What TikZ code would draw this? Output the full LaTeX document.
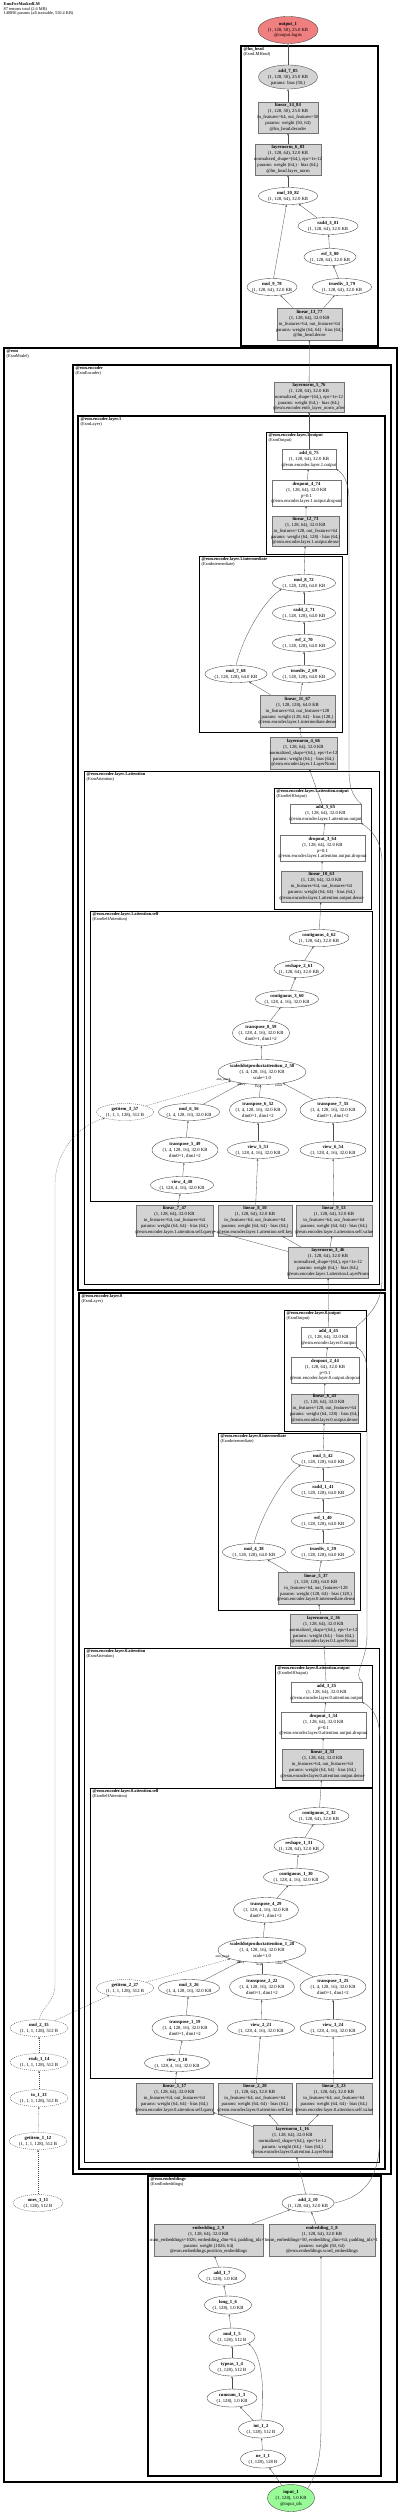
\documentclass[tikz,border=0pt]{standalone}
\usepackage{fontspec}
\setmainfont{Liberation Serif}
\usetikzlibrary{arrows.meta,shapes.geometric}
\definecolor{gfill}{HTML}{D3D3D3}
\definecolor{outc}{HTML}{F08080}
\definecolor{inc}{HTML}{98FB98}
\newcommand\myNF{\fontsize{4.7}{5.9}\selectfont}
\newcommand\myCF{\fontsize{4.4}{4.4}\selectfont}
\newcommand\myLF{\fontsize{3.4}{3.6}\selectfont}
\newcommand\EN[6][]{\node[el,#1,minimum width=#4pt,minimum height=#5pt] (#2) at (#3) {\textbf{#2}\\#6};}
\newcommand\BX[6][]{\node[bx,#1,minimum width=#4pt,minimum height=#5pt] (#2) at (#3) {\textbf{#2}\\#6};}
\catcode`\_=12
\begin{document}
\begin{tikzpicture}[x=1pt,y=-1pt,
 el/.style={ellipse,draw=black!75,line width=0.35pt,inner xsep=-4pt,inner ysep=-1pt,align=center,font=\myNF},
 bx/.style={rectangle,draw=black!55,line width=0.35pt,inner xsep=-15pt,inner ysep=-2pt,align=center,font=\myNF},
 gr/.style={fill=gfill},
 dsh/.style={dash pattern=on 1pt off 1pt},
 ed/.style={draw=black!70,line width=0.3pt,-{Stealth[length=2.2pt,width=1.7pt]}},
 ded/.style={ed,dash pattern=on 1pt off 1pt},
 clu/.style={draw=black,line width=#1},
 cll/.style={anchor=north west,align=left,inner sep=0pt,font=\myCF},
 lbl/.style={inner sep=0.4pt,font=\myLF}]
\useasboundingbox[fill=white] (0,0) rectangle (400,2514);

% header
\node[anchor=north west,align=left,inner sep=0pt,font=\fontsize{4.3}{4.4}\selectfont] (hdr) at (3.5,2.5) {\textbf{EsmForMaskedLM}\\87 tensors total (2.6 MB)\\140896 params (all trainable, 550.4 KB)};

% clusters
\draw[clu=1.6pt] (241,46) rectangle (378,346);
\node[cll] (c_lm) at (243.5,47.5) {\textbf{@lm_head}\\(EsmLMHead)};
\draw[clu=1.6pt] (4,348) rectangle (397,2482);
\node[cll] (c_esm) at (6.5,349.5) {\textbf{@esm}\\(EsmModel)};
\draw[clu=1.3pt] (73,365) rectangle (391,2174);
\node[cll] (c_enc) at (75.5,366.5) {\textbf{@esm.encoder}\\(EsmEncoder)};
\draw[clu=1.1pt] (78,416) rectangle (385,1290);
\node[cll] (c_l1) at (80.5,417.5) {\textbf{@esm.encoder.layer.1}\\(EsmLayer)};
\draw[clu=0.9pt] (266,432) rectangle (347,554);
\node[cll] (c_l1o) at (268.5,433.5) {\textbf{@esm.encoder.layer.1.output}\\(EsmOutput)};
\draw[clu=0.9pt] (199,556) rectangle (342,732);
\node[cll] (c_l1i) at (201.5,557.5) {\textbf{@esm.encoder.layer.1.intermediate}\\(EsmIntermediate)};
\draw[clu=0.9pt] (84,771) rectangle (379,1284);
\node[cll] (c_l1a) at (86.5,772.5) {\textbf{@esm.encoder.layer.1.attention}\\(EsmAttention)};
\draw[clu=0.7pt] (274,788) rectangle (371,909);
\node[cll] (c_l1ao) at (276.5,789.5) {\textbf{@esm.encoder.layer.1.attention.output}\\(EsmSelfOutput)};
\draw[clu=0.7pt] (90,911) rectangle (372,1201);
\node[cll] (c_l1as) at (92.5,912.5) {\textbf{@esm.encoder.layer.1.attention.self}\\(EsmSelfAttention)};
\draw[clu=1.1pt] (79,1293) rectangle (385,2169);
\node[cll] (c_l0) at (81.5,1294.5) {\textbf{@esm.encoder.layer.0}\\(EsmLayer)};
\draw[clu=0.9pt] (284,1310) rectangle (366,1431);
\node[cll] (c_l0o) at (286.5,1311.5) {\textbf{@esm.encoder.layer.0.output}\\(EsmOutput)};
\draw[clu=0.9pt] (218,1433) rectangle (360,1610);
\node[cll] (c_l0i) at (220.5,1434.5) {\textbf{@esm.encoder.layer.0.intermediate}\\(EsmIntermediate)};
\draw[clu=0.9pt] (84,1648) rectangle (379,2162);
\node[cll] (c_l0a) at (86.5,1649.5) {\textbf{@esm.encoder.layer.0.attention}\\(EsmAttention)};
\draw[clu=0.7pt] (275,1665) rectangle (372,1787);
\node[cll] (c_l0ao) at (277.5,1666.5) {\textbf{@esm.encoder.layer.0.attention.output}\\(EsmSelfOutput)};
\draw[clu=0.7pt] (90,1788) rectangle (372,2078);
\node[cll] (c_l0as) at (92.5,1789.5) {\textbf{@esm.encoder.layer.0.attention.self}\\(EsmSelfAttention)};
\draw[clu=1.3pt] (148,2176) rectangle (381,2476);
\node[cll] (c_emb) at (150.5,2177.5) {\textbf{@esm.embeddings}\\(EsmEmbeddings)};

% lm_head
\EN[fill=outc]{output_1}{288,30}{60}{27}{(1, 128, 50), 25.0 KB\\@output.logits}
\EN[gr]{add_7_85}{288,77}{59}{24}{(1, 128, 50), 25.0 KB\\params: bias (50,)}
\BX[gr]{linear_14_84}{288,117.5}{60}{31}{(1, 128, 50), 25.0 KB\\in_features=64, out_features=50\\params: weight (50, 64)\\@lm_head.decoder}
\BX[gr]{layernorm_6_83}{288,159.5}{66}{31}{(1, 128, 64), 32.0 KB\\normalized_shape=(64,), eps=1e-12\\params: weight (64,) · bias (64,)\\@lm_head.layer_norm}
\EN{mul_10_82}{288,196}{59}{17}{(1, 128, 64), 32.0 KB}
\EN{radd_3_81}{328,226}{60}{17}{(1, 128, 64), 32.0 KB}
\EN{erf_3_80}{330,257}{52}{17}{(1, 128, 64), 32.0 KB}
\EN{mul_9_78}{272,287}{50}{17}{(1, 128, 64), 32.0 KB}
\EN{truediv_3_79}{342,287}{59}{17}{(1, 128, 64), 32.0 KB}
\BX[gr]{linear_13_77}{309.5,324}{65}{32}{(1, 128, 64), 32.0 KB\\in_features=64, out_features=64\\params: weight (64, 64) · bias (64,)\\@lm_head.dense}

% encoder top
\BX[gr]{layernorm_5_76}{309,397}{70}{30}{(1, 128, 64), 32.0 KB\\normalized_shape=(64,), eps=1e-12\\params: weight (64,) · bias (64,)\\@esm.encoder.emb_layer_norm_after}

% layer 1
\BX{add_6_75}{309,459}{54}{20}{(1, 128, 64), 32.0 KB\\@esm.encoder.layer.1.output}
\BX{dropout_4_74}{306.5,493}{69}{26}{(1, 128, 64), 32.0 KB\\p=0.1\\@esm.encoder.layer.1.output.dropout}
\BX[gr]{linear_12_73}{305.5,531}{67}{30}{(1, 128, 64), 32.0 KB\\in_features=128, out_features=64\\params: weight (64, 128) · bias (64,)\\@esm.encoder.layer.1.output.dense}
\EN{mul_8_72}{304,583}{63}{17}{(1, 128, 128), 64.0 KB}
\EN{radd_2_71}{304,613}{63}{17}{(1, 128, 128), 64.0 KB}
\EN{erf_2_70}{304,643}{63}{17}{(1, 128, 128), 64.0 KB}
\EN{mul_7_68}{236,674}{62}{17}{(1, 128, 128), 64.0 KB}
\EN{truediv_2_69}{304,674}{63}{17}{(1, 128, 128), 64.0 KB}
\BX[gr]{linear_11_67}{297.5,711}{75}{32}{(1, 128, 128), 64.0 KB\\in_features=64, out_features=128\\params: weight (128, 64) · bias (128,)\\@esm.encoder.layer.1.intermediate.dense}
\BX[gr]{layernorm_4_66}{303.5,753}{67}{32}{(1, 128, 64), 32.0 KB\\normalized_shape=(64,), eps=1e-12\\params: weight (64,) · bias (64,)\\@esm.encoder.layer.1.LayerNorm}
\BX{add_5_65}{325.5,813.5}{71}{19}{(1, 128, 64), 32.0 KB\\@esm.encoder.layer.1.attention.output}
\BX{dropout_3_64}{322.5,848}{85}{26}{(1, 128, 64), 32.0 KB\\p=0.1\\@esm.encoder.layer.1.attention.output.dropout}
\BX[gr]{linear_10_63}{321.5,886.5}{81}{31}{(1, 128, 64), 32.0 KB\\in_features=64, out_features=64\\params: weight (64, 64) · bias (64,)\\@esm.encoder.layer.1.attention.output.dense}
\EN{contiguous_4_62}{319,938}{60}{17}{(1, 128, 64), 32.0 KB}
\EN{reshape_2_61}{299,969}{50}{17}{(1, 128, 64), 32.0 KB}
\EN{contiguous_3_60}{287,999}{63}{17}{(1, 128, 4, 16), 32.0 KB}
\EN{transpose_8_59}{261,1033}{57}{25}{(1, 128, 4, 16), 32.0 KB\\dim0=1, dim1=2}
\EN{scaleddotproductattention_2_58}{262,1072}{88}{25}{(1, 4, 128, 16), 32.0 KB\\scale=1.0}
\EN[dsh]{getitem_3_57}{125,1112}{57}{17}{(1, 1, 1, 128), 512 B}
\EN{mul_6_56}{189,1112}{61}{17}{(1, 4, 128, 16), 32.0 KB}
\EN{transpose_6_52}{258,1110}{57}{25}{(1, 4, 128, 16), 32.0 KB\\dim0=1, dim1=2}
\EN{transpose_7_55}{333,1110}{66}{25}{(1, 4, 128, 16), 32.0 KB\\dim0=1, dim1=2}
\EN{transpose_5_49}{185,1150}{66}{25}{(1, 4, 128, 16), 32.0 KB\\dim0=1, dim1=2}
\EN{view_5_51}{258,1150}{61}{17}{(1, 128, 4, 16), 32.0 KB}
\EN{view_6_54}{333,1150}{66}{17}{(1, 128, 4, 16), 32.0 KB}
\EN{view_4_48}{182,1185}{63}{17}{(1, 128, 4, 16), 32.0 KB}
\BX[gr]{linear_7_47}{174.5,1220.5}{77}{31}{(1, 128, 64), 32.0 KB\\in_features=64, out_features=64\\params: weight (64, 64) · bias (64,)\\@esm.encoder.layer.1.attention.self.query}
\BX[gr]{linear_8_50}{255,1220.5}{74}{31}{(1, 128, 64), 32.0 KB\\in_features=64, out_features=64\\params: weight (64, 64) · bias (64,)\\@esm.encoder.layer.1.attention.self.key}
\BX[gr]{linear_9_53}{334,1220.5}{76}{31}{(1, 128, 64), 32.0 KB\\in_features=64, out_features=64\\params: weight (64, 64) · bias (64,)\\@esm.encoder.layer.1.attention.self.value}
\BX[gr]{layernorm_3_46}{328,1262.5}{80}{31}{(1, 128, 64), 32.0 KB\\normalized_shape=(64,), eps=1e-12\\params: weight (64,) · bias (64,)\\@esm.encoder.layer.1.attention.LayerNorm}

% layer 0
\BX{add_4_45}{328.5,1337}{55}{20}{(1, 128, 64), 32.0 KB\\@esm.encoder.layer.0.output}
\BX{dropout_2_44}{325,1370}{68}{26}{(1, 128, 64), 32.0 KB\\p=0.1\\@esm.encoder.layer.0.output.dropout}
\BX[gr]{linear_6_43}{324.5,1408.5}{67}{29}{(1, 128, 64), 32.0 KB\\in_features=128, out_features=64\\params: weight (64, 128) · bias (64,)\\@esm.encoder.layer.0.output.dense}
\EN{mul_5_42}{323,1459}{63}{17}{(1, 128, 128), 64.0 KB}
\EN{radd_1_41}{323,1490}{63}{17}{(1, 128, 128), 64.0 KB}
\EN{erf_1_40}{323,1521}{63}{17}{(1, 128, 128), 64.0 KB}
\EN{mul_4_38}{254,1552}{63}{17}{(1, 128, 128), 64.0 KB}
\EN{truediv_1_39}{323,1552}{63}{17}{(1, 128, 128), 64.0 KB}
\BX[gr]{linear_5_37}{316,1588}{76}{32}{(1, 128, 128), 64.0 KB\\in_features=64, out_features=128\\params: weight (128, 64) · bias (128,)\\@esm.encoder.layer.0.intermediate.dense}
\BX[gr]{layernorm_2_36}{323.5,1630}{67}{32}{(1, 128, 64), 32.0 KB\\normalized_shape=(64,), eps=1e-12\\params: weight (64,) · bias (64,)\\@esm.encoder.layer.0.LayerNorm}
\BX{add_3_35}{326.5,1692}{71}{20}{(1, 128, 64), 32.0 KB\\@esm.encoder.layer.0.attention.output}
\BX{dropout_1_34}{323.5,1725}{85}{26}{(1, 128, 64), 32.0 KB\\p=0.1\\@esm.encoder.layer.0.attention.output.dropout}
\BX[gr]{linear_4_33}{322.5,1764.5}{81}{31}{(1, 128, 64), 32.0 KB\\in_features=64, out_features=64\\params: weight (64, 64) · bias (64,)\\@esm.encoder.layer.0.attention.output.dense}
\EN{contiguous_2_32}{319,1816}{60}{17}{(1, 128, 64), 32.0 KB}
\EN{reshape_1_31}{299,1846}{50}{17}{(1, 128, 64), 32.0 KB}
\EN{contiguous_1_30}{296,1877}{65}{17}{(1, 128, 4, 16), 32.0 KB}
\EN{transpose_4_29}{266,1910}{65}{25}{(1, 128, 4, 16), 32.0 KB\\dim0=1, dim1=2}
\EN{scaleddotproductattention_1_28}{262,1950}{88}{25}{(1, 4, 128, 16), 32.0 KB\\scale=1.0}
\EN[dsh]{getitem_2_27}{125,1988}{57}{17}{(1, 1, 1, 128), 512 B}
\EN{mul_3_26}{189,1988}{61}{17}{(1, 4, 128, 16), 32.0 KB}
\EN{transpose_2_22}{262,1987}{65}{25}{(1, 4, 128, 16), 32.0 KB\\dim0=1, dim1=2}
\EN{transpose_3_25}{333,1987}{66}{25}{(1, 4, 128, 16), 32.0 KB\\dim0=1, dim1=2}
\EN{transpose_1_19}{185,2028}{66}{25}{(1, 4, 128, 16), 32.0 KB\\dim0=1, dim1=2}
\EN{view_2_21}{261,2028}{67}{17}{(1, 128, 4, 16), 32.0 KB}
\EN{view_3_24}{333,2028}{66}{17}{(1, 128, 4, 16), 32.0 KB}
\EN{view_1_18}{177,2063}{65}{17}{(1, 128, 4, 16), 32.0 KB}
\BX[gr]{linear_1_17}{174.5,2098.5}{77}{31}{(1, 128, 64), 32.0 KB\\in_features=64, out_features=64\\params: weight (64, 64) · bias (64,)\\@esm.encoder.layer.0.attention.self.query}
\BX[gr]{linear_2_20}{255,2098.5}{74}{31}{(1, 128, 64), 32.0 KB\\in_features=64, out_features=64\\params: weight (64, 64) · bias (64,)\\@esm.encoder.layer.0.attention.self.key}
\BX[gr]{linear_3_23}{334,2098.5}{76}{31}{(1, 128, 64), 32.0 KB\\in_features=64, out_features=64\\params: weight (64, 64) · bias (64,)\\@esm.encoder.layer.0.attention.self.value}
\BX[gr]{layernorm_1_16}{292.5,2141}{79}{32}{(1, 128, 64), 32.0 KB\\normalized_shape=(64,), eps=1e-12\\params: weight (64,) · bias (64,)\\@esm.encoder.layer.0.attention.LayerNorm}

% mask chain
\EN[dsh]{mul_2_15}{39,2028}{58}{17}{(1, 1, 1, 128), 512 B}
\EN[dsh]{rsub_1_14}{39,2062}{58}{17}{(1, 1, 1, 128), 512 B}
\EN[dsh]{to_1_13}{39,2098}{58}{17}{(1, 1, 1, 128), 512 B}
\EN[dsh]{getitem_1_12}{38,2141}{58}{17}{(1, 1, 1, 128), 512 B}
\EN[dsh]{ones_1_11}{38,2203}{50}{17}{(1, 128), 512 B}

% embeddings
\EN{add_2_10}{308,2203}{52}{18}{(1, 128, 64), 32.0 KB}
\BX[gr]{embedding_2_9}{208.5,2240}{109}{32}{(1, 128, 64), 32.0 KB\\num_embeddings=1026, embedding_dim=64, padding_idx=1\\params: weight (1026, 64)\\@esm.embeddings.position_embeddings}
\BX[gr]{embedding_1_8}{322,2240}{106}{32}{(1, 128, 64), 32.0 KB\\num_embeddings=50, embedding_dim=64, padding_idx=1\\params: weight (50, 64)\\@esm.embeddings.word_embeddings}
\EN{add_1_7}{222,2276}{47}{18}{(1, 128), 1.0 KB}
\EN{long_1_6}{228,2305}{47}{18}{(1, 128), 1.0 KB}
\EN{mul_1_5}{232,2337}{46}{18}{(1, 128), 512 B}
\EN{typeas_1_4}{232,2367}{46}{18}{(1, 128), 512 B}
\EN{cumsum_1_3}{232,2398}{50}{18}{(1, 128), 1.0 KB}
\EN{int_1_2}{261,2429}{45}{18}{(1, 128), 512 B}
\EN{ne_1_1}{263,2459}{45}{18}{(1, 128), 128 B}
\EN[fill=inc]{input_1}{291,2498}{47}{27}{(1, 128), 1.0 KB\\@input_ids}

% ---- edges: embeddings
\draw[ed] (input_1) -- (ne_1_1);
\draw[ed] (ne_1_1) -- (int_1_2);
\draw[ed] (int_1_2) -- (cumsum_1_3);
\draw[ed] (cumsum_1_3) -- (typeas_1_4);
\draw[ed] (typeas_1_4) -- (mul_1_5);
\draw[ed] (int_1_2.north) .. controls (265,2390) and (262,2355) .. (mul_1_5.south east);
\draw[ed] (mul_1_5) -- (long_1_6);
\draw[ed] (long_1_6) -- (add_1_7);
\draw[ed] (add_1_7) -- (embedding_2_9);
\draw[ed] (input_1.north east) .. controls (318,2472) and (321,2455) .. (321,2425) -- (embedding_1_8.south -| 321,2256);
\draw[ed] (embedding_2_9) -- (add_2_10);
\draw[ed] (embedding_1_8) -- (add_2_10);
\draw[ed] (add_2_10) -- (layernorm_1_16);
\draw[ed] (add_2_10.east) .. controls (372,2195) and (380,2170) .. (380,2130) -- (380,1740) .. controls (380,1715) and (370,1706) .. (add_3_35.south east);

% mask chain
\draw[ded] (ones_1_11) -- (getitem_1_12);
\draw[ded] (getitem_1_12) -- (to_1_13);
\draw[ded] (to_1_13) -- (rsub_1_14);
\draw[ded] (rsub_1_14) -- (mul_2_15);
\draw[ded] (mul_2_15) -- (getitem_2_27);
\draw[ded] (mul_2_15.north) .. controls (44,2005) and (55,2000) .. (55,1985) -- (55,1185) .. controls (55,1150) and (80,1125) .. (getitem_3_57.south west);

% layer 0 attention
\draw[ed] (layernorm_1_16) -- (linear_1_17);
\draw[ed] (layernorm_1_16) -- (linear_2_20);
\draw[ed] (layernorm_1_16) -- (linear_3_23);
\draw[ed] (linear_1_17) -- (view_1_18);
\draw[ed] (view_1_18) -- (transpose_1_19);
\draw[ed] (transpose_1_19) -- (mul_3_26);
\draw[ed] (linear_2_20) -- (view_2_21);
\draw[ed] (view_2_21) -- (transpose_2_22);
\draw[ed] (linear_3_23) -- (view_3_24);
\draw[ed] (view_3_24) -- (transpose_3_25);
\draw[ed] (mul_3_26) -- node[lbl,at end,anchor=north] {query} (scaleddotproductattention_1_28);
\draw[ed] (transpose_2_22) -- node[lbl,at end,anchor=north east] {key} (scaleddotproductattention_1_28);
\draw[ed] (transpose_3_25) -- node[lbl,at end,anchor=north east] {value} (scaleddotproductattention_1_28);
\draw[ded] (getitem_2_27) -- node[lbl,at end,anchor=south east] {attn_mask} (scaleddotproductattention_1_28);
\draw[ed] (scaleddotproductattention_1_28) -- (transpose_4_29);
\draw[ed] (transpose_4_29) -- (contiguous_1_30);
\draw[ed] (contiguous_1_30) -- (reshape_1_31);
\draw[ed] (reshape_1_31) -- (contiguous_2_32);
\draw[ed] (contiguous_2_32) -- (linear_4_33);
\draw[ed] (linear_4_33) -- (dropout_1_34);
\draw[ed] (dropout_1_34) -- (add_3_35);
\draw[ed] (add_3_35) -- (layernorm_2_36);
\draw[ed] (layernorm_2_36) -- (linear_5_37);
\draw[ed] (linear_5_37) -- (mul_4_38);
\draw[ed] (linear_5_37) -- (truediv_1_39);
\draw[ed] (truediv_1_39) -- (erf_1_40);
\draw[ed] (erf_1_40) -- (radd_1_41);
\draw[ed] (radd_1_41) -- (mul_5_42);
\draw[ed] (mul_4_38.north) .. controls (260,1520) and (280,1480) .. (mul_5_42.south west);
\draw[ed] (mul_5_42) -- (linear_6_43);
\draw[ed] (linear_6_43) -- (dropout_2_44);
\draw[ed] (dropout_2_44) -- (add_4_45);
\draw[ed] (add_3_35.north east) .. controls (352,1674) and (367,1662) .. (367,1635) -- (367,1372) .. controls (367,1356) and (361,1350) .. (add_4_45.south east);

% layer 1
\draw[ed] (add_4_45) -- (layernorm_3_46);
\draw[ed] (add_4_45.north east) .. controls (366,1318) and (382,1305) .. (382,1280) -- (382,862) .. controls (382,842) and (372,830) .. (add_5_65.south east);
\draw[ed] (layernorm_3_46) -- (linear_7_47);
\draw[ed] (layernorm_3_46) -- (linear_8_50);
\draw[ed] (layernorm_3_46) -- (linear_9_53);
\draw[ed] (linear_7_47) -- (view_4_48);
\draw[ed] (view_4_48) -- (transpose_5_49);
\draw[ed] (transpose_5_49) -- (mul_6_56);
\draw[ed] (linear_8_50) -- (view_5_51);
\draw[ed] (view_5_51) -- (transpose_6_52);
\draw[ed] (linear_9_53) -- (view_6_54);
\draw[ed] (view_6_54) -- (transpose_7_55);
\draw[ed] (mul_6_56) -- node[lbl,at end,anchor=north] {query} (scaleddotproductattention_2_58);
\draw[ed] (transpose_6_52) -- node[lbl,at end,anchor=north east] {key} (scaleddotproductattention_2_58);
\draw[ed] (transpose_7_55) -- node[lbl,at end,anchor=north east] {value} (scaleddotproductattention_2_58);
\draw[ded] (getitem_3_57) -- node[lbl,at end,anchor=south east] {attn_mask} (scaleddotproductattention_2_58);
\draw[ed] (scaleddotproductattention_2_58) -- (transpose_8_59);
\draw[ed] (transpose_8_59) -- (contiguous_3_60);
\draw[ed] (contiguous_3_60) -- (reshape_2_61);
\draw[ed] (reshape_2_61) -- (contiguous_4_62);
\draw[ed] (contiguous_4_62) -- (linear_10_63);
\draw[ed] (linear_10_63) -- (dropout_3_64);
\draw[ed] (dropout_3_64) -- (add_5_65);
\draw[ed] (add_5_65) -- (layernorm_4_66);
\draw[ed] (layernorm_4_66) -- (linear_11_67);
\draw[ed] (linear_11_67) -- (mul_7_68);
\draw[ed] (linear_11_67) -- (truediv_2_69);
\draw[ed] (truediv_2_69) -- (erf_2_70);
\draw[ed] (erf_2_70) -- (radd_2_71);
\draw[ed] (radd_2_71) -- (mul_8_72);
\draw[ed] (mul_7_68.north) .. controls (242,640) and (262,602) .. (mul_8_72.south west);
\draw[ed] (mul_8_72) -- (linear_12_73);
\draw[ed] (linear_12_73) -- (dropout_4_74);
\draw[ed] (dropout_4_74) -- (add_6_75);
\draw[ed] (add_5_65.north east) .. controls (352,796) and (349,786) .. (349,770) -- (349,500) .. controls (349,482) and (343,473) .. (add_6_75.south east);
\draw[ed] (add_6_75) -- (layernorm_5_76);
\draw[ed] (layernorm_5_76) -- (linear_13_77);

% lm head edges
\draw[ed] (linear_13_77) -- (mul_9_78);
\draw[ed] (linear_13_77) -- (truediv_3_79);
\draw[ed] (truediv_3_79) -- (erf_3_80);
\draw[ed] (erf_3_80) -- (radd_3_81);
\draw[ed] (radd_3_81) -- (mul_10_82);
\draw[ed] (mul_9_78) -- (mul_10_82);
\draw[ed] (mul_10_82) -- (layernorm_6_83);
\draw[ed] (layernorm_6_83) -- (linear_14_84);
\draw[ed] (linear_14_84) -- (add_7_85);
\draw[ed] (add_7_85) -- (output_1);
\end{tikzpicture}
\end{document}
